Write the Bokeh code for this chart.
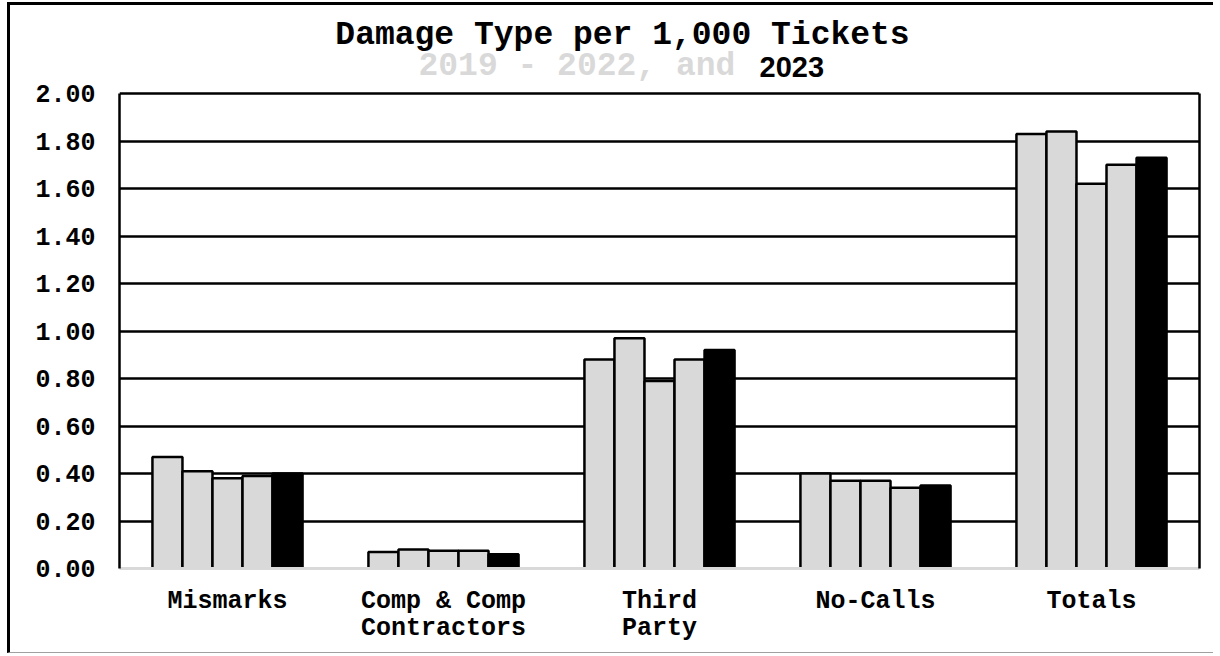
from bokeh.plotting import figure
from bokeh.models import (FactorRange, ColumnDataSource, LinearAxis,
                          FixedTicker, NumeralTickFormatter, Range1d)
from bokeh.transform import dodge
from bokeh.embed import file_html
from bokeh.resources import INLINE
from bokeh.core.properties import value

# ---------------- data ----------------
categories = ["Mismarks", "Comp & Comp\nContractors", "Third\nParty", "No-Calls", "Totals"]
years = ["2019", "2020", "2021", "2022", "2023"]
y2019 = [0.47, 0.07, 0.88, 0.40, 1.83]
y2020 = [0.41, 0.08, 0.97, 0.37, 1.84]
y2021 = [0.38, 0.075, 0.79, 0.37, 1.62]
y2022 = [0.39, 0.075, 0.88, 0.34, 1.70]
y2023 = [0.40, 0.06, 0.92, 0.35, 1.73]
y_ticks = [0.0, 0.2, 0.4, 0.6, 0.8, 1.0, 1.2, 1.4, 1.6, 1.8, 2.0]

title_text = "Damage Type per 1,000 Tickets"
subtitle_gray = "2019 - 2022, and"
subtitle_black = "2023"

FONT = "Liberation Mono"
GRAY = "#d9d9d9"

# ---------------- layout constants (pixels) ----------------
PX_PER_UNIT = 237.5          # 2.00 spans 475 px
FRAME_W = 1080
CAT_W = FRAME_W / len(categories)
ML, MT, BW = 7, 2, 3         # css margin-left, margin-top, border width
FRAME_LEFT = 119             # screen x of the frame's left edge
FRAME_TOP = MT + BW          # frame starts at the top of the canvas
TOP_PAD = 93 - FRAME_TOP     # px above the 2.00 gridline inside the frame

src = ColumnDataSource(dict(cat=categories, y2019=y2019, y2020=y2020,
                            y2021=y2021, y2022=y2022, y2023=y2023))

y_top = 2.0 + TOP_PAD / PX_PER_UNIT
p = figure(x_range=FactorRange(factors=categories, range_padding=0),
           y_range=Range1d(0, y_top),
           frame_width=FRAME_W, frame_height=int(round(y_top * PX_PER_UNIT)),
           min_border_left=FRAME_LEFT - ML - BW, min_border_top=0,
           min_border_right=14, min_border_bottom=84,
           output_backend="svg", toolbar_location=None)
p.styles = {"border-left": "3px solid black", "border-top": "3px solid black",
            "border-bottom": "1px solid #a0a0a0",
            "margin-left": "%dpx" % ML, "margin-top": "%dpx" % MT}
p.outline_line_color = None
p.background_fill_color = "white"
p.border_fill_color = "white"

bar_w = 0.139
fills = [GRAY, GRAY, GRAY, GRAY, "black"]
for i, yr in enumerate(years):
    p.vbar(x=dodge("cat", (i - 2) * bar_w, range=p.x_range), top="y" + yr,
           width=bar_w, source=src, fill_color=fills[i],
           line_color="black", line_width=2.5)

# y axis
p.yaxis.ticker = FixedTicker(ticks=y_ticks)
p.yaxis.bounds = (0, 2.0)
p.yaxis.formatter = NumeralTickFormatter(format="0.00")
p.yaxis.major_tick_out = 0
p.yaxis.major_tick_in = 0
p.yaxis.minor_tick_out = 0
p.yaxis.minor_tick_in = 0
p.yaxis.axis_line_color = "black"
p.yaxis.axis_line_width = 2.5
p.yaxis.major_label_text_font = FONT
p.yaxis.major_label_text_font_style = "bold"
p.yaxis.major_label_text_font_size = "25px"
p.yaxis.major_label_text_color = "black"
p.yaxis.major_label_standoff = 24

# x axis
p.xaxis.axis_line_color = GRAY
p.xaxis.axis_line_width = 3
p.xaxis.major_tick_out = 0
p.xaxis.major_tick_in = 0
p.xaxis.major_label_text_font = FONT
p.xaxis.major_label_text_font_style = "bold"
p.xaxis.major_label_text_font_size = "25px"
p.xaxis.major_label_text_line_height = 0.96
p.xaxis.major_label_text_color = "black"
p.xaxis.major_label_standoff = 18

# right frame line (axis with no ticks / labels)
rax = LinearAxis(ticker=FixedTicker(ticks=[]), bounds=(0, 2.0),
                 major_tick_out=0, major_tick_in=0,
                 minor_tick_out=0, minor_tick_in=0, major_label_standoff=0,
                 axis_line_color="black", axis_line_width=2.5)
p.add_layout(rax, "right")

# grid
p.xgrid.grid_line_color = None
p.ygrid.ticker = FixedTicker(ticks=y_ticks[1:])
p.ygrid.grid_line_color = "black"
p.ygrid.grid_line_width = 2.5

# titles (drawn inside the frame, above the 2.00 line)
def sx(px):
    return (px - FRAME_LEFT) / CAT_W

def sy(py):
    return 2.0 + (93 - py) / PX_PER_UNIT

p.text(x=[sx(622)], y=[sy(35)], text=[title_text],
       text_align="center", text_baseline="alphabetic",
       text_font=value(FONT), text_font_size="33px", text_font_style="bold",
       text_color="black")
p.text(x=[sx(418)], y=[sy(66)], text=[subtitle_gray],
       text_align="left", text_baseline="alphabetic",
       text_font=value(FONT), text_font_size="33px", text_font_style="bold",
       text_color=GRAY)
p.text(x=[sx(759)], y=[sy(66)], text=[subtitle_black],
       text_align="left", text_baseline="alphabetic",
       text_font=value("Liberation Sans"), text_font_size="29px",
       text_font_style="bold", text_color="black")

open("out.html", "w").write(file_html(p, INLINE))
